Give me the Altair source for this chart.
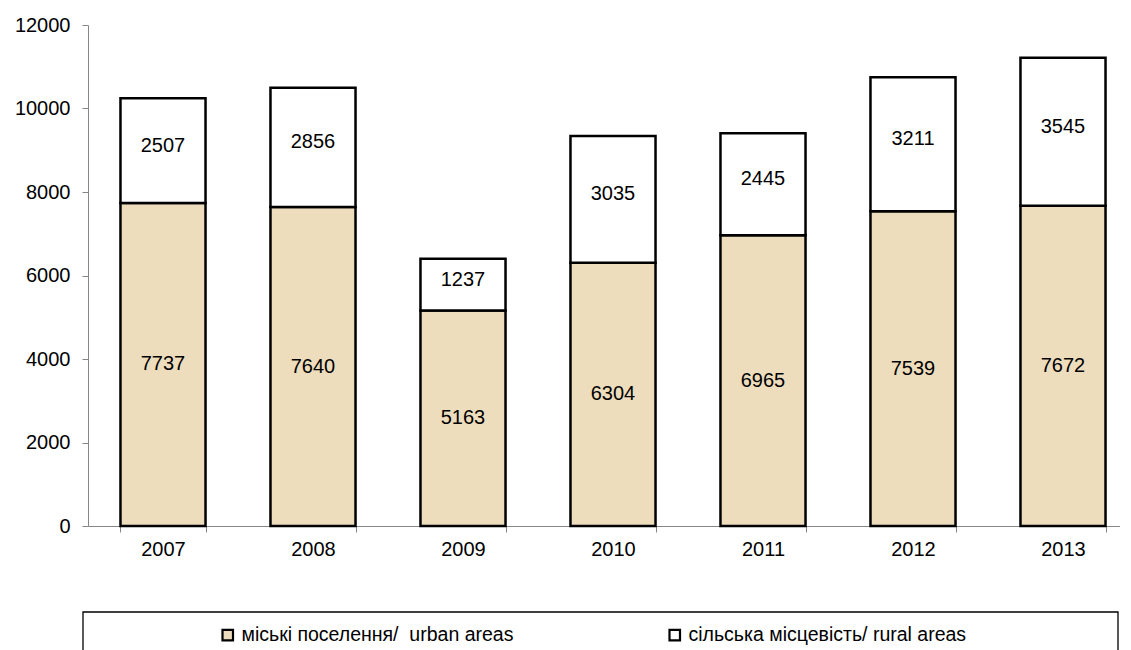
import altair as alt
import pandas as pd

years = ["2007", "2008", "2009", "2010", "2011", "2012", "2013"]
urban = [7737, 7640, 5163, 6304, 6965, 7539, 7672]
rural = [2507, 2856, 1237, 3035, 2445, 3211, 3545]
series = ["міські поселення/\u00a0 urban areas", "сільська місцевість/ rural areas"]
series_colors = ["#EDDDBD", "#FFFFFF"]
y_ticks = [0, 2000, 4000, 6000, 8000, 10000, 12000]

rows = []
for i, yr in enumerate(years):
    rows.append({"year": yr, "series": series[0], "value": urban[i], "order": 0,
                 "mid": urban[i] / 2})
    rows.append({"year": yr, "series": series[1], "value": rural[i], "order": 1,
                 "mid": urban[i] + rural[i] / 2})
df = pd.DataFrame(rows)

FONT = "Liberation Sans"
FS = 20

x_enc = alt.X("year:N", sort=years, title=None,
              scale=alt.Scale(paddingInner=0.433, paddingOuter=0.2165, range=[0, 1050]),
              axis=alt.Axis(labelAngle=0, tickBand="extent", domainColor="#868686",
                            tickColor="#868686", tickSize=6, labelPadding=7,
                            labelFontSize=FS, labelFont=FONT, labelColor="#000000"))

bars = alt.Chart(df).mark_bar(stroke="#000000", strokeWidth=2.5).encode(
    x=x_enc,
    y=alt.Y("value:Q", stack="zero", title=None,
            scale=alt.Scale(domain=[0, 12000], nice=False),
            axis=alt.Axis(values=y_ticks, format="d", grid=False, domainColor="#868686",
                          tickColor="#868686", tickSize=6, labelPadding=12,
                          labelFontSize=FS, labelFont=FONT, labelColor="#000000")),
    color=alt.Color("series:N", sort=series,
                    scale=alt.Scale(domain=series, range=series_colors),
                    legend=alt.Legend(title=None, orient="none", direction="horizontal",
                                      legendX=130, legendY=600, padding=0,
                                      symbolType="square", symbolSize=110,
                                      symbolStrokeColor="#000000", symbolStrokeWidth=2.2,
                                      labelFontSize=19.5, labelFont=FONT, labelColor="#000000",
                                      labelLimit=600, labelOffset=4, columnPadding=151)),
    order=alt.Order("order:Q"),
)

label_base = alt.Chart(df).encode(
    x=alt.X("year:N", sort=years),
    y=alt.Y("mid:Q"),
    text=alt.Text("value:Q", format="d"),
)
labels_urban = label_base.transform_filter(alt.datum.order == 0).mark_text(
    fontSize=FS, font=FONT, color="#000000", baseline="middle", align="center")
labels_rural = label_base.transform_filter(alt.datum.order == 1).mark_text(
    fontSize=FS, font=FONT, color="#000000", baseline="middle", align="center", dy=-5)

box = alt.Chart(alt.Data(values=[{"k": 1}])).mark_rect(
    fill=None, stroke="#000000", strokeWidth=1.3
).encode(
    x=alt.value(-5), x2=alt.value(1030), y=alt.value(587), y2=alt.value(700)
)

chart = alt.layer(bars, labels_urban, labels_rural, box).properties(
    width=1032, height=501,
    autosize=alt.AutoSizeParams(type="none"),
    padding={"left": 80, "top": 17, "right": 0, "bottom": 124},
).configure_view(stroke=None)

chart.save("out.html", embed_options={"renderer": "svg", "actions": False})
